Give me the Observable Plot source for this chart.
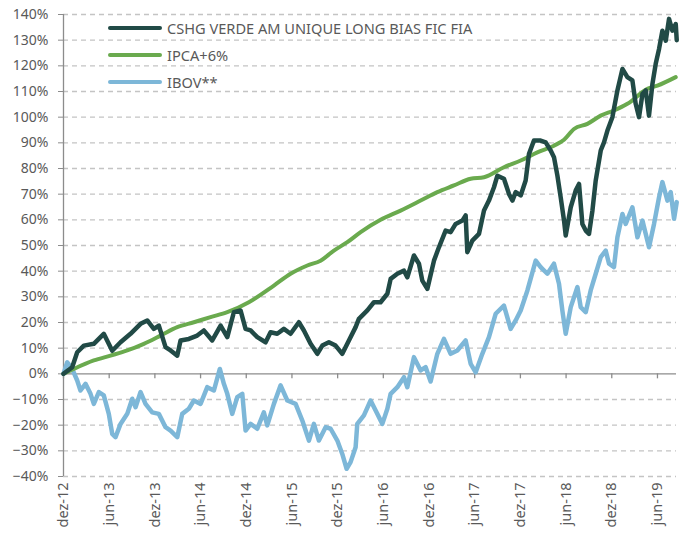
<!DOCTYPE html>
<html>
<head>
<meta charset="utf-8">
<script src="https://cdn.jsdelivr.net/npm/d3@7"></script>
<script src="https://cdn.jsdelivr.net/npm/@observablehq/plot@0.6"></script>
<style>
  html, body { margin: 0; padding: 0; background: #fff; }
  #wrap { position: relative; width: 687px; height: 540px; font-family: "Noto Sans", sans-serif; }
  .legend { position: absolute; left: 108px; top: 0; color: #595959; font-size: 14.6px; }
  .legend .item { position: absolute; left: 0; height: 20px; display: flex; align-items: center; white-space: nowrap; }
  .legend .sw { width: 54px; height: 4.5px; border-radius: 2px; margin-right: 5px; }
</style>
</head>
<body>
<div id="wrap"></div>
<script>
// x = months since Dec 2012
const tickMonths = [0, 6, 12, 18, 24, 30, 36, 42, 48, 54, 60, 66, 72, 78];
const tickLabels = ["dez-12","jun-13","dez-13","jun-14","dez-14","jun-15","dez-15","jun-16","dez-16","jun-17","dez-17","jun-18","dez-18","jun-19"];
const yTicks = [-40,-30,-20,-10,0,10,20,30,40,50,60,70,80,90,100,110,120,130,140];

const seriesNames = ["CSHG VERDE AM UNIQUE LONG BIAS FIC FIA", "IPCA+6%", "IBOV**"];
const seriesColors = ["#214a46", "#6aaa4e", "#7db7d8"];

const cshg = [
  [0,0],[1.14,2.6],[1.8,8.4],[2.67,11],[3.98,11.7],[5.29,15.6],[6.4,9],[7.49,12.3],[8.8,15.6],[10.12,19.5],
  [11,20.8],[11.86,17.5],[12.52,18.8],[13.4,10.4],[14.06,9.1],[14.94,7.1],[15.37,13],[16.46,13.6],[17.56,14.9],[18.43,16.9],
  [19.53,13],[20.63,18.8],[21.51,14.3],[22.37,24],[23.25,24.7],[23.91,17.5],[24.57,16.9],[25.45,14.3],[26.54,12.3],[27.19,16.2],
  [28.07,15.6],[28.94,17.5],[29.82,15.6],[30.91,20.1],[31.57,16.9],[32.45,11.7],[33.33,7.8],[33.99,11],[34.85,12.3],[35.73,11],
  [36.61,7.8],[37.48,13],[38.36,18.2],[38.79,21.4],[39.9,24.7],[40.76,27.9],[41.64,27.9],[42.53,31.2],[42.96,37],[43.84,39],
  [44.71,40.2],[45.15,37.6],[46.02,46.1],[46.68,42.9],[47.12,36.3],[47.78,33.1],[48.65,44.1],[49.3,49.3],[50.18,55.8],[50.84,55.2],
  [51.5,58.4],[52.38,59.7],[52.81,61.7],[53.03,47.4],[53.69,51.9],[54.56,54.5],[55.22,63.6],[55.87,67.5],[56.53,72.7],[56.98,77.2],
  [57.84,76],[58.5,70.1],[58.95,67.5],[59.38,70.8],[60.04,69.5],[60.69,75.3],[61.13,85.7],[61.78,90.9],[62.66,90.9],[63.32,90.2],
  [63.98,87],[64.41,84.4],[64.86,77.2],[65.29,68.8],[65.73,59.7],[65.95,53.9],[66.61,64.9],[67.26,71.4],[67.7,74],[68.14,58.4],
  [68.58,55.8],[69.01,54.5],[69.46,63.6],[69.89,75.3],[70.55,87],[70.98,90.2],[71.43,94.8],[72.08,100],[72.74,110.4],[73.4,118.8],
  [74.05,115.6],[74.71,114.3],[75.14,105.2],[75.58,100],[76.03,109.1],[76.46,110.4],[76.89,100.6],[77.34,113],[77.77,120.8],[78.21,126.6],
  [78.65,133.7],[79.09,129.8],[79.52,138.3],[79.96,133.7],[80.4,136.3],[80.53,130]
];

const ipca = [
  [0,0],[1.35,1.9],[3.98,5.2],[6.17,7.1],[8.37,9.1],[10.55,11.7],[12.74,14.9],[14.94,18.2],[17.12,20.1],[19.31,22.1],
  [21.51,24],[24.34,27.9],[27.63,34.4],[29.82,39],[32.02,42.2],[33.76,44.1],[35.51,48],[37.27,51.3],[39.02,55.2],[41.64,60],
  [44.27,63.6],[46.9,67.5],[49.09,70.8],[51.27,73.4],[53.47,76],[55.22,76.6],[57.84,80.5],[60.04,83.1],[62.23,86.3],[64.41,88.9],
  [65.73,91.2],[67.04,95.4],[68.8,97.4],[70.55,100.6],[72.29,102.6],[74.05,105.2],[76.68,111],[77.99,112.3],[80.4,115.6]
];

const ibov = [
  [0,0],[0.49,4.5],[1.14,1.9],[1.8,-2.6],[2.23,-6.5],[2.89,-3.9],[3.55,-7.8],[3.98,-11.7],[4.64,-7.1],[5.29,-8.4],
  [5.95,-15.6],[6.4,-23.4],[6.83,-24.7],[7.49,-19.5],[8.37,-15.6],[9.03,-9.7],[9.46,-13],[10.12,-7.1],[10.77,-11.7],[11.65,-15],
  [12.52,-15.6],[13.4,-20.8],[14.06,-22.1],[14.94,-24.7],[15.59,-15.6],[16.46,-13.6],[17.12,-10.4],[18,-11.7],[18.88,-5.2],[19.75,-6.5],
  [20.53,1.9],[21.06,-3.9],[21.51,-7.8],[22.16,-15.6],[22.82,-9.1],[23.48,-7.8],[23.91,-22.1],[24.57,-19.5],[25.45,-21.4],[26.31,-15],
  [26.76,-20.1],[27.63,-11.7],[28.51,-4.5],[29.39,-10.4],[30.48,-11.7],[31.36,-18.2],[32.23,-26],[32.88,-19.5],[33.54,-26],[34.42,-20.8],
  [35.08,-21.4],[35.96,-26],[36.61,-31.2],[37.18,-37],[37.7,-34.4],[38.36,-28.6],[38.58,-19.5],[39.45,-16.2],[40.33,-10.4],[40.99,-14.3],
  [41.87,-19.5],[42.53,-13.6],[42.96,-7.8],[43.84,-5.2],[44.71,-1.3],[45.15,-5.2],[46.02,6.5],[46.9,1.3],[47.56,2.6],[48.21,-3],
  [49.09,7.8],[49.96,13.6],[50.84,7.8],[51.72,9.1],[52.81,13],[53.47,3.9],[54.13,0.6],[55,7.8],[55.87,14.3],[56.75,23.4],
  [57.84,26.6],[58.72,17.5],[59.38,20.8],[60.04,24.7],[60.92,32.5],[62.01,44.1],[62.66,41.6],[63.54,39],[64.41,42.9],[65.07,35.1],
  [65.51,24.7],[65.95,15.6],[66.61,26],[67.49,33.8],[67.92,26],[68.58,24],[69.23,32.5],[69.89,39],[70.55,45.5],[71.2,48],
  [71.64,42.9],[72.29,41.6],[72.74,53.2],[73.4,62.3],[73.83,58.4],[74.71,64.9],[75.37,53.2],[76.03,59.7],[76.89,49.3],[77.55,58.4],
  [78.21,68.8],[78.65,74.7],[79.31,67.5],[79.74,70.8],[80.18,60.4],[80.53,66.9]
];

const toRows = (arr) => arr.map(([m, v]) => ({m, v}));
const labelOf = new Map(tickMonths.map((m, i) => [m, tickLabels[i]]));

const chart = Plot.plot({
  width: 687,
  height: 540,
  marginLeft: 63,
  marginRight: 11,
  marginTop: 14,
  marginBottom: 64,
  style: { fontFamily: "'Noto Sans', sans-serif", fontSize: "14px", color: "#595959", background: "#fff" },
  x: { domain: [0, 80.5] },
  y: { domain: [-40, 140] },
  marks: [
    Plot.ruleY(yTicks.filter(d => d !== 0), { stroke: "#c4c4c4", strokeWidth: 1.3, strokeDasharray: "5,4" }),
    Plot.ruleX([0], { stroke: "#8c8c8c", strokeWidth: 1.3 }),
    Plot.ruleY([0], { stroke: "#8c8c8c", strokeWidth: 1.3 }),
    Plot.ruleX(tickMonths, { x: d => d, y1: 0, y2: 0, insetBottom: -5, stroke: "#8c8c8c", strokeWidth: 1.3 }),
    Plot.axisY({ ticks: yTicks, tickSize: 5, tickPadding: 10, stroke: "#8c8c8c", tickFormat: d => (d < 0 ? "\u2212" : "") + Math.abs(d) + "%", fontSize: 14, fill: "#595959", label: null }),
    Plot.axisX({ ticks: tickMonths, tickSize: 0, tickPadding: 6, tickRotate: -90, tickFormat: d => labelOf.get(d), fontSize: 14.5, fill: "#595959", label: null }),
    Plot.line(toRows(ibov), { x: "m", y: "v", stroke: seriesColors[2], strokeWidth: 4.5, strokeLinejoin: "round", strokeLinecap: "round" }),
    Plot.line(toRows(ipca), { x: "m", y: "v", stroke: seriesColors[1], strokeWidth: 4, strokeLinejoin: "round", strokeLinecap: "round", curve: "monotone-x" }),
    Plot.line(toRows(cshg), { x: "m", y: "v", stroke: seriesColors[0], strokeWidth: 4.5, strokeLinejoin: "round", strokeLinecap: "round" })
  ]
});

const wrap = document.getElementById("wrap");
wrap.appendChild(chart);
const legend = document.createElement("div");
legend.className = "legend";
const legendTops = [18, 45, 72];
seriesNames.forEach((name, i) => {
  const item = document.createElement("div");
  item.className = "item";
  item.style.top = legendTops[i] + "px";
  const sw = document.createElement("span");
  sw.className = "sw";
  sw.style.background = seriesColors[i];
  const tx = document.createElement("span");
  tx.textContent = name;
  item.appendChild(sw);
  item.appendChild(tx);
  legend.appendChild(item);
});
wrap.appendChild(legend);
</script>
</body>
</html>
